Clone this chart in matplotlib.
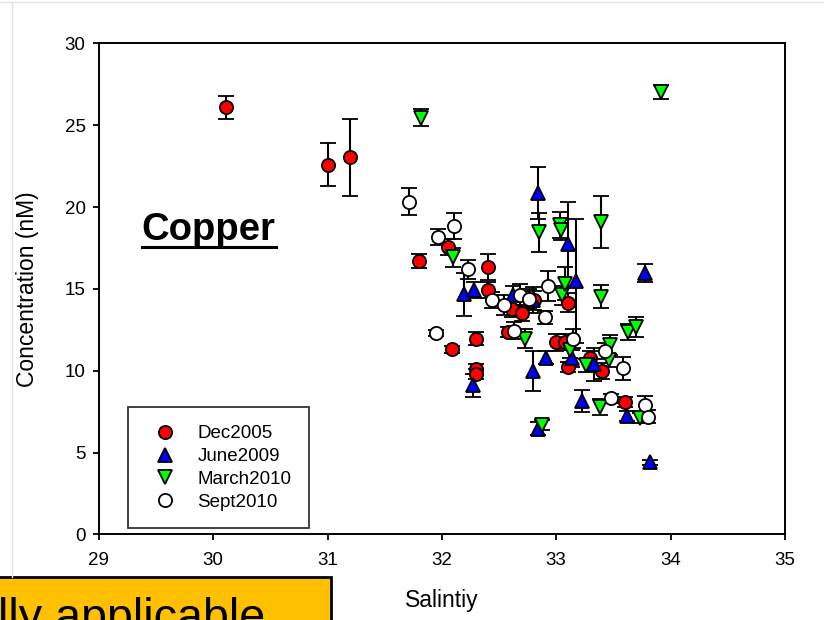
import matplotlib
matplotlib.use("Agg")
import matplotlib.pyplot as plt
from matplotlib.lines import Line2D
from matplotlib.patches import Rectangle

plt.rcParams['font.family'] = ['Liberation Sans', 'DejaVu Sans']

# data (salinity, concentration nM, +/- error)
dec_x = [30.11, 31.00, 31.20, 31.80, 32.05, 32.09, 32.30, 32.30, 32.30, 32.40, 32.40,
         32.58, 32.61, 32.70, 32.81, 33.00, 33.08, 33.10, 33.10, 33.30, 33.40, 33.60]
dec_y = [26.1, 22.6, 23.05, 16.7, 17.55, 11.3, 11.97, 10.1, 9.8, 16.35, 14.93,
         12.38, 13.8, 13.54, 14.3, 11.73, 11.77, 14.17, 10.24, 10.8, 9.99, 8.1]
dec_err = [0.7, 1.3, 2.35, 0.45, 0.5, 0.2, 0.4, 0.3, 0.3, 0.8, 0.5,
           0.3, 0.5, 0.5, 0.6, 0.5, 0.5, 0.6, 0.3, 0.4, 0.5, 0.3]

jun_x = [32.19, 32.28, 32.27, 32.62, 32.80, 32.80, 32.84, 32.84, 32.91, 33.10,
         33.14, 33.17, 33.23, 33.33, 33.62, 33.78, 33.82]
jun_y = [14.66, 14.93, 9.12, 14.6, 14.3, 10.0, 20.87, 6.47, 10.8, 17.74,
         10.75, 15.5, 8.16, 10.4, 7.25, 15.98, 4.4]
jun_err = [1.3, 0.5, 0.7, 0.6, 0.8, 1.22, 1.6, 0.4, 0.4, 2.6,
           0.5, 3.8, 0.66, 1.0, 0.3, 0.54, 0.15]

mar_x = [31.82, 32.10, 32.73, 32.85, 32.88, 33.03, 33.04, 33.05, 33.08, 33.12,
         33.26, 33.38, 33.39, 33.39, 33.46, 33.47, 33.63, 33.70, 33.73, 33.92]
mar_y = [25.47, 16.92, 11.97, 18.45, 6.68, 18.9, 18.6, 14.6, 15.33, 11.25,
         10.34, 7.8, 19.1, 14.51, 10.65, 11.56, 12.38, 12.68, 7.09, 27.04]
mar_err = [0.5, 0.6, 0.6, 1.2, 0.3, 0.8, 0.6, 0.6, 1.0, 0.5,
           0.4, 0.5, 1.6, 0.7, 0.4, 0.6, 0.5, 0.6, 0.3, 0.43]

sep_x = [31.71, 31.95, 31.97, 32.11, 32.23, 32.44, 32.54, 32.63, 32.68, 32.76,
         32.90, 32.93, 33.15, 33.43, 33.48, 33.58, 33.78, 33.80]
sep_y = [20.32, 12.3, 18.18, 18.85, 16.19, 14.31, 14.0, 12.45, 14.6, 14.37,
         13.26, 15.19, 11.97, 11.2, 8.31, 10.14, 7.9, 7.18]
sep_err = [0.82, 0.2, 0.5, 0.8, 0.6, 0.5, 0.6, 0.5, 0.7, 0.6,
           0.4, 0.9, 0.6, 0.5, 0.3, 0.7, 0.55, 0.4]

series = [
    ("Dec2005", dec_x, dec_y, dec_err, 'o', 'red'),
    ("June2009", jun_x, jun_y, jun_err, '^', 'blue'),
    ("March2010", mar_x, mar_y, mar_err, 'v', '#00ff00'),
    ("Sept2010", sep_x, sep_y, sep_err, 'o', 'white'),
]

fig = plt.figure(figsize=(8.24, 6.2), dpi=100)
ax = fig.add_axes([0.120, 0.138, 0.8325, 0.792])

handles = []
for name, x, y, e, m, c in series:
    ax.errorbar(x, y, yerr=e, fmt=m, ms=9.5, mfc=c, mec='black', mew=1.3,
                ecolor='black', elinewidth=1.5, capsize=6, capthick=1.5)
    handles.append(Line2D([], [], ls='none', marker=m, ms=9.5, mfc=c,
                          mec='black', mew=1.3, label=name))

ax.set_xlim(29, 35)
ax.set_ylim(0, 30)
ax.set_xticks(range(29, 36))
ax.set_yticks(range(0, 31, 5))
for s in ax.spines.values():
    s.set_linewidth(1.4)
ax.tick_params(direction='out', length=4.5, width=1.3, labelsize=13.5)
ax.tick_params(axis='x', pad=8)
ax.tick_params(axis='y', pad=5)

ax.set_xlabel("Salintiy", fontsize=16.5)
ax.set_ylabel("Concentration (nM)", fontsize=16.5)
ax.xaxis.set_label_coords(0.5, -0.112)
ax.yaxis.set_label_coords(-0.088, 0.5)

# "Copper" title inside the plot, underlined
ax.text(29.376, 17.98, "Copper", fontsize=27.5, fontweight='bold', va='baseline')
ax.plot([29.373, 30.548], [17.57, 17.57], color='black', lw=2.2)

leg = ax.legend(handles=handles, loc='lower left', bbox_to_anchor=(0.0427, 0.0122),
                borderaxespad=0, fontsize=13.5, frameon=True, fancybox=False,
                edgecolor='black', borderpad=0.95, labelspacing=0.3,
                handlelength=2.0, handletextpad=0.75)
leg.get_frame().set_linewidth(1.3)

# slide leftovers: thin border lines and the yellow callout box
fig.add_artist(Line2D([0, 1], [0.997, 0.997], color='#e2e2e2', lw=1))
fig.add_artist(Line2D([12 / 824, 12 / 824], [0.07, 0.997], color='#e2e2e2', lw=1))
fig.add_artist(Rectangle((-0.01, -0.01), 331 / 824 + 0.01, 43 / 620 + 0.01,
                         facecolor='#ffc000', edgecolor='black', lw=2))
fig.text(-2 / 824, -11 / 620, "lly applicable", fontsize=33.6, ha='left', va='baseline')

fig.savefig("out.png", dpi=100)
